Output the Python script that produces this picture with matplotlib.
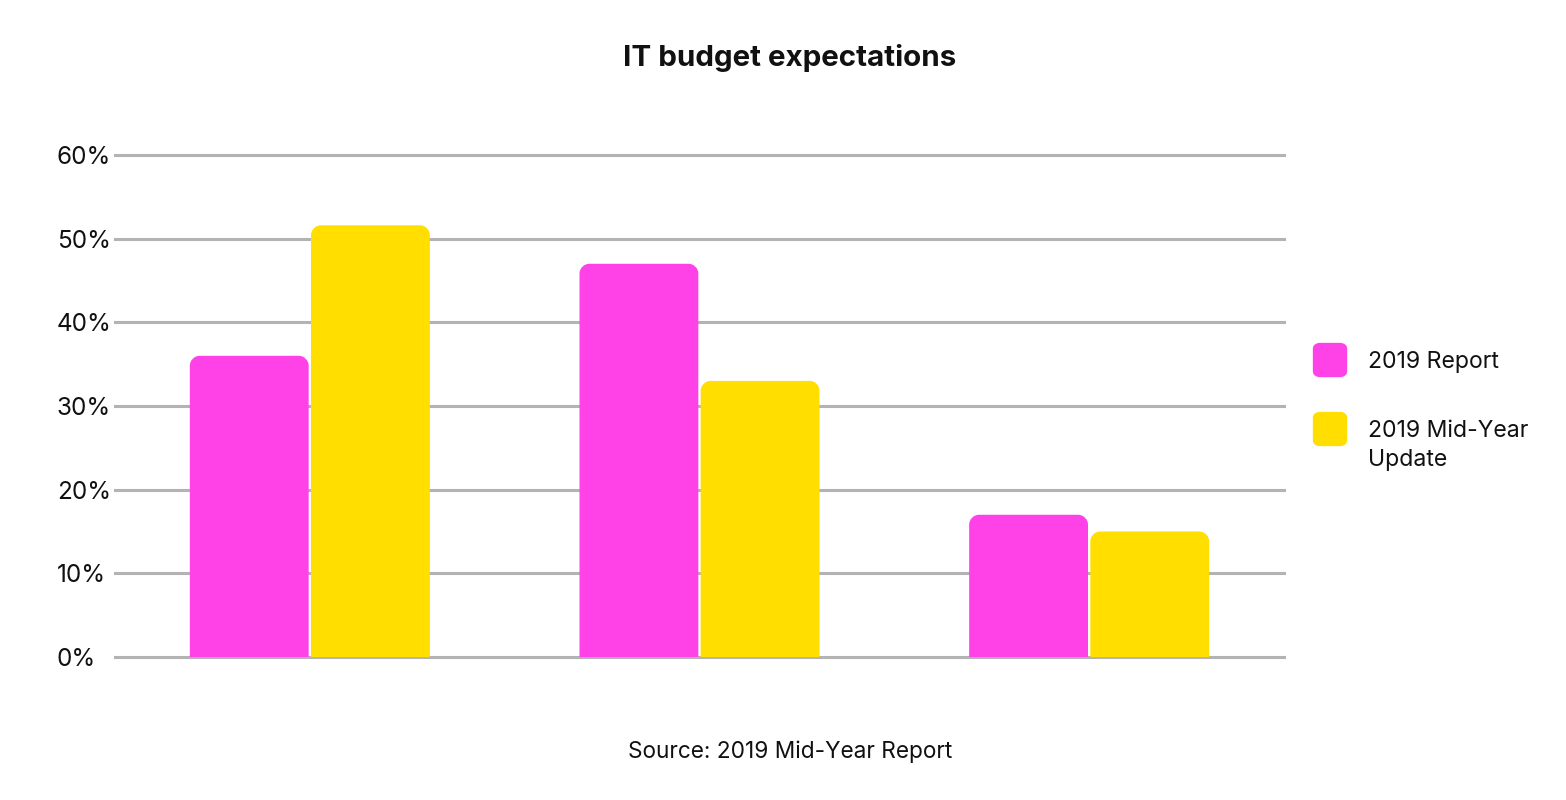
import matplotlib
matplotlib.use('Agg')
from matplotlib import pyplot as plt
from matplotlib.path import Path
from matplotlib.patches import PathPatch, FancyBboxPatch

plt.rcParams['font.family'] = ['Inter', 'DejaVu Sans']

groups = ["A", "B", "C"]
series_names = ["2019 Report", "2019 Mid-Year\nUpdate"]
report_2019 = [36, 47, 17]
midyear_2019 = [51.6, 33, 15]
yticks = [0, 10, 20, 30, 40, 50, 60]
ytick_labels = ["0%", "10%", "20%", "30%", "40%", "50%", "60%"]
colors = ["#FF42E8", "#FFDE00"]


def rounded_bar(ax, x0, w, h, rx, ry, color):
    # rectangle with rounded top corners only
    k = 0.5523
    verts = [
        (x0, 0), (x0, h - ry),
        (x0, h - ry + k * ry), (x0 + rx - k * rx, h), (x0 + rx, h),
        (x0 + w - rx, h),
        (x0 + w - rx + k * rx, h), (x0 + w, h - ry + k * ry), (x0 + w, h - ry),
        (x0 + w, 0), (x0, 0),
    ]
    codes = [Path.MOVETO, Path.LINETO,
             Path.CURVE4, Path.CURVE4, Path.CURVE4,
             Path.LINETO,
             Path.CURVE4, Path.CURVE4, Path.CURVE4,
             Path.LINETO, Path.CLOSEPOLY]
    ax.add_patch(PathPatch(Path(verts, codes), facecolor=color, edgecolor='none', zorder=3))


fig = plt.figure(figsize=(15.66, 8), dpi=100)
ax = fig.add_axes([115 / 1566, 143 / 800, 1169 / 1566, 502 / 800])
ax.set_xlim(-0.5, 2.5)
ax.set_ylim(0, 60)

bw = 0.305
gap = 0.003
rx = 10 / 390
ry = 10 / 83.67 * 10
for i in range(len(groups)):
    rounded_bar(ax, i - bw - gap, bw, report_2019[i], rx, ry, colors[0])
    rounded_bar(ax, i + gap, bw, midyear_2019[i], rx, ry, colors[1])

for y in yticks:
    ax.axhline(y, color="#b3b3b3", lw=2.2, zorder=1, clip_on=False)

ax.set_yticks(yticks)
ax.set_yticklabels(ytick_labels, fontsize=17.5, color="#111111", ha='left')
ax.tick_params(axis='y', length=0, pad=42)
ax.set_xticks([])
for s in ax.spines.values():
    s.set_visible(False)

fig.text(790 / 1566, 1 - 58 / 800, "IT budget expectations", ha='center', va='center',
         fontsize=21.3, fontweight='bold', color="#111111")
fig.text(790 / 1566, 1 - 752 / 800, "Source: 2019 Mid-Year Report", ha='center', va='center',
         fontsize=16.3, color="#111111")

# legend
leg_y = [360, 429]
for name, c, yy in zip(series_names, colors, leg_y):
    fig.patches.append(FancyBboxPatch(((1314 + 3) / 1566, 1 - (yy + 16 - 3) / 800),
                                      26 / 1566, 26 / 800,
                                      boxstyle="round,pad=0.0,rounding_size=0.002",
                                      transform=fig.transFigure, facecolor=c,
                                      edgecolor=c, lw=6, joinstyle='round'))
    fig.text(1368 / 1566, 1 - (yy - 9) / 800, name, ha='left', va='top',
             fontsize=16.6, color="#111111", linespacing=1.42)

fig.savefig("out.png", dpi=100)
